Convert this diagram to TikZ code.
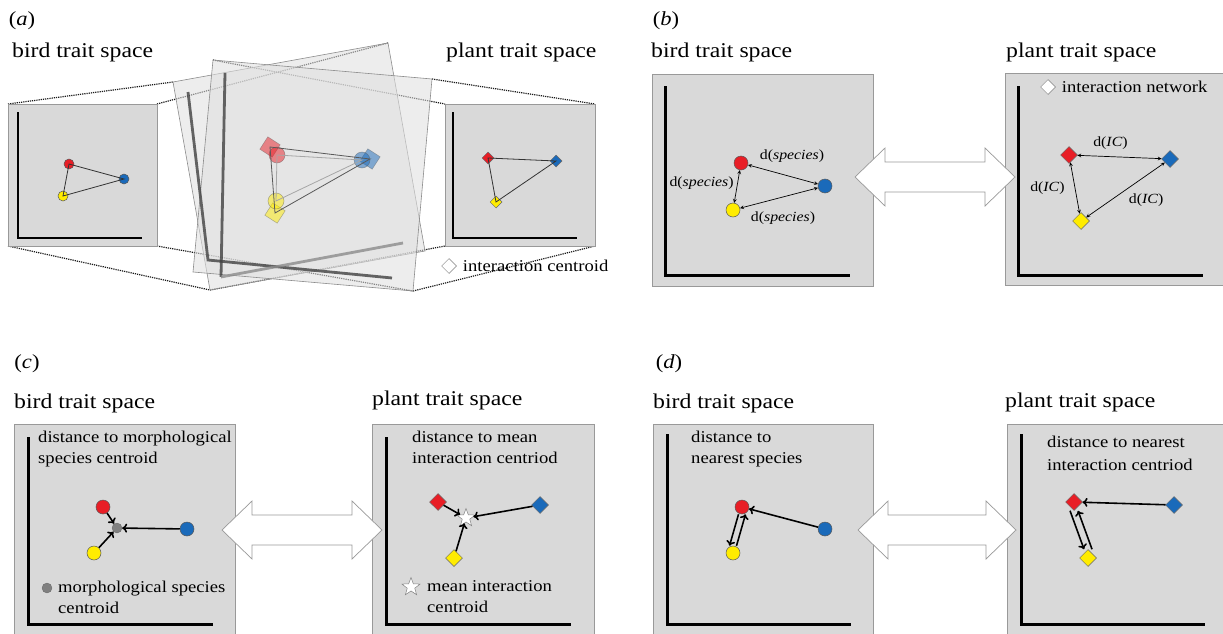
\documentclass[tikz,border=0pt]{standalone}
\usepackage{fontspec}
\setmainfont{Liberation Serif}[FakeStretch=1.13]
\usetikzlibrary{shapes.geometric,positioning,arrows.meta}
\definecolor{spred}{RGB}{232,30,38}
\definecolor{spblue}{RGB}{26,106,186}
\definecolor{spyellow}{RGB}{255,236,0}
\definecolor{boxgray}{RGB}{217,217,217}
\tikzset{
  trait/.style={draw=black!40, fill=boxgray, line width=.6pt},
  axes/.style={line width=3pt, line join=miter},
  sp/.style={circle, draw=black!65, line width=.5pt, inner sep=0, minimum size=14pt},
  ic/.style={diamond, aspect=1, draw=black!60, line width=.5pt, inner sep=0, minimum size=17pt},
  cen/.style={circle, fill=black!50, draw=black!60, line width=.3pt, inner sep=0, minimum size=10pt},
  mic/.style={star, star points=5, star point ratio=2.4, draw=black!50, fill=white, line width=.5pt, inner sep=0, minimum size=19pt},
  proj/.style={densely dotted, line width=1.2pt, black!90},
  plane/.style={draw=black!45, fill=black!12, fill opacity=.55, line width=.6pt},
  net/.style={line width=.8pt, black!80},
  link/.style={<->, line width=.7pt},
  pull/.style={-{To[length=5pt, width=9pt]}, line width=1.6pt},
  twoway/.style={draw=black!40, fill=white, line width=.7pt},
  tag/.style={font=\fontsize{20}{24}\selectfont, inner sep=0},
  title/.style={font=\fontsize{21}{25}\selectfont, inner sep=0, anchor=west},
  note/.style={font=\fontsize{16.5}{21}\selectfont, inner sep=0, align=left, anchor=north west},
  keytext/.style={font=\fontsize{16.5}{21}\selectfont, inner sep=0, anchor=west},
  lbl/.style={font=\fontsize{14}{16}\selectfont, inner sep=1pt}
}
\begin{document}
\begin{tikzpicture}[x=1pt, y=-1pt, >=stealth]
\useasboundingbox (0,0) rectangle (1223,634);
\fill[white] (0,0) rectangle (1223,634);

% (a)
\node[tag] (ta) at (22,21) {(\textit{a})};
\node[title] (abird) at (12,52) {bird trait space};
\node[title] (aplant) at (446,52) {plant trait space};
\draw[proj] (8,104) -- (173,82);
\draw[proj] (157,104) -- (388,43);
\draw[proj] (8,246) -- (210,290);
\draw[proj] (157,246) -- (413,291);
\draw[proj] (213,60) -- (445,104);
\draw[proj] (432,79) -- (595,104);
\draw[proj] (210,290) -- (445,246);
\draw[proj] (413,291) -- (595,246);
\draw[trait] (8,104) rectangle (157,246);
\draw[trait] (445,104) rectangle (595,246);
\draw[axes, line width=2.6pt] (18,112) |- (142,238);
\draw[axes, line width=2.6pt] (453,112) |- (577,238);
\draw[plane] (173,82) -- (388,43) -- (425,251) -- (210,290) -- cycle;
\draw[plane] (213,60) -- (432,79) -- (413,291) -- (193,272) -- cycle;
\draw[axes, line width=2.8pt, black!75, opacity=.8] (188,92) -- (208,260) -- (392,278);
\draw[axes, line width=2.8pt, black!75, opacity=.8] (225,73) -- (221,277);
\draw[axes, line width=2.8pt, black!45, opacity=.8] (221,277) -- (403,243);

\node[sp, fill=spred, minimum size=10pt] (ar) at (69,164) {};
\node[sp, fill=spblue, minimum size=10pt] (ab) at (124,179) {};
\node[sp, fill=spyellow, minimum size=10pt] (ay) at (63,196) {};
\draw[net] (ar.center) -- (ab.center) -- (ay.center) -- cycle;
\node[ic, fill=spred, minimum size=12pt] (pr) at (488,158) {};
\node[ic, fill=spblue, minimum size=12pt] (pb) at (556,161) {};
\node[ic, fill=spyellow, minimum size=12pt] (py) at (496,202) {};
\draw[net] (pr.center) -- (pb.center) -- (py.center) -- cycle;

\node[ic, fill=spred, opacity=.5, minimum size=21pt, rotate=12] (nr) at (270,147) {};
\node[ic, fill=spblue, opacity=.5, minimum size=21pt, rotate=12] (nb) at (370,159) {};
\node[ic, fill=spyellow, opacity=.5, minimum size=21pt, rotate=12] (ny) at (275,213) {};
\node[sp, fill=spred, opacity=.5, minimum size=16pt] (mr) at (277,155) {};
\node[sp, fill=spblue, opacity=.5, minimum size=16pt] (mb) at (362,160) {};
\node[sp, fill=spyellow, opacity=.5, minimum size=16pt] (my) at (276,201) {};
\draw[net, black!35] (mr.center) -- (mb.center) -- (my.center) -- cycle;
\draw[net, black!65] (nr.center) -- (nb.center) -- (ny.center) -- cycle;

\node[ic, fill=white, draw=black!50, minimum size=15pt] (akey) at (449,266) {};
\node[keytext, right=6pt of akey] (akeyt) {interaction centroid};

% (b)
\node[tag] (tb) at (666,21) {(\textit{b})};
\node[title] (bbird) at (651,52) {bird trait space};
\node[title] (bplant) at (1006,52) {plant trait space};
\draw[trait] (652,74) rectangle (873,286);
\draw[trait] (1005,73) rectangle (1230,285);
\draw[axes] (665,86) |- (850,275);
\draw[axes] (1018,86) |- (1203,275);
\node[sp, fill=spred] (br) at (741,163) {};
\node[sp, fill=spblue] (bb) at (825,186) {};
\node[sp, fill=spyellow] (by) at (733,210) {};
\draw[link] (br) -- node[lbl, above=11pt, xshift=9pt] {d(\textit{species})} (bb);
\draw[link] (br) -- node[lbl, left=2pt, yshift=3pt] {d(\textit{species})} (by);
\draw[link] (by) -- node[lbl, below=12pt, xshift=4pt] {d(\textit{species})} (bb);
\node[ic, fill=spred] (qr) at (1069,155) {};
\node[ic, fill=spblue] (qb) at (1170,159) {};
\node[ic, fill=spyellow] (qy) at (1081,221) {};
\draw[link] (qr) -- node[lbl, above=6pt, xshift=-9pt] {d(\textit{IC})} (qb);
\draw[link] (qr) -- node[lbl, left=9pt] {d(\textit{IC})} (qy);
\draw[link] (qy) -- node[lbl, right=2pt, yshift=-10pt] {d(\textit{IC})} (qb);
\node[ic, fill=white, draw=black!50, minimum size=15pt] (bkey) at (1048,87) {};
\node[keytext, right=6pt of bkey] (bkeyt) {interaction network};

% (c)
\node[tag] (tc) at (27,364) {(\textit{c})};
\node[title] (cbird) at (14,403) {bird trait space};
\node[title] (cplant) at (372,400) {plant trait space};
\draw[trait] (14,424) rectangle (235,640);
\draw[trait] (372,424) rectangle (594,640);
\draw[axes] (28,437) |- (213,624);
\draw[axes] (386,437) |- (571,624);
\node[note] (cnb) at (38,431) {distance to morphological\\species centroid};
\node[sp, fill=spred] (cr) at (103,507) {};
\node[sp, fill=spblue] (cb) at (187,529) {};
\node[sp, fill=spyellow] (cy) at (94,553) {};
\node[cen] (cg) at (117,528) {};
\draw[pull] (cr) -- (cg);
\draw[pull] (cb) -- (cg);
\draw[pull] (cy) -- (cg);
\node[cen] (ckey) at (47,588) {};
\node[note] (ckeyt) at (58,581) {morphological species\\centroid};
\node[note] (cnp) at (412,431) {distance to mean\\interaction centriod};
\node[ic, fill=spred] (cpr) at (438,502) {};
\node[ic, fill=spblue] (cpb) at (540,505) {};
\node[ic, fill=spyellow] (cpy) at (454,558) {};
\node[mic] (cst) at (466,518) {};
\draw[pull] (cpr) -- (cst);
\draw[pull] (cpb) -- (cst);
\draw[pull] (cpy) -- (cst);
\node[mic] (cskey) at (411,587) {};
\node[note] (cskeyt) at (427,580) {mean interaction\\centroid};

% (d)
\node[tag] (td) at (669,364) {(\textit{d})};
\node[title] (dbird) at (653,403) {bird trait space};
\node[title] (dplant) at (1005,402) {plant trait space};
\draw[trait] (653,424) rectangle (873,640);
\draw[trait] (1007,424) rectangle (1230,640);
\draw[axes] (667,434) |- (851,624);
\draw[axes] (1021,434) |- (1205,624);
\node[note] (dnb) at (691,431) {distance to\\nearest species};
\node[note, font=\fontsize{16.5}{22.5}\selectfont] (dnp) at (1047,436) {distance to nearest\\interaction centriod};
\node[sp, fill=spred] (dr) at (742,507) {};
\node[sp, fill=spblue] (db) at (825,529) {};
\node[sp, fill=spyellow] (dy) at (733,553) {};
\draw[pull] (db) -- (dr);
\draw[pull] ([xshift=-3.5pt]dr.south) -- ([xshift=-3.5pt]dy.north);
\draw[pull] ([xshift=3.5pt]dy.north) -- ([xshift=3.5pt]dr.south);
\node[ic, fill=spred] (dpr) at (1074,502) {};
\node[ic, fill=spblue] (dpb) at (1174,505) {};
\node[ic, fill=spyellow] (dpy) at (1088,558) {};
\draw[pull] (dpb) -- (dpr);
\draw[pull] ([xshift=-4pt]dpr.south) -- ([xshift=-4pt]dpy.north);
\draw[pull] ([xshift=4pt]dpy.north) -- ([xshift=4pt]dpr.south);

\foreach \xa/\xb/\yc in {855/1015/177, 222/382/530, 858/1016/530}
  \draw[twoway] (\xa,\yc) -- (\xa+30,\yc-29) -- (\xa+30,\yc-15) -- (\xb-30,\yc-15)
    -- (\xb-30,\yc-29) -- (\xb,\yc) -- (\xb-30,\yc+29) -- (\xb-30,\yc+15)
    -- (\xa+30,\yc+15) -- (\xa+30,\yc+29) -- cycle;
\end{tikzpicture}
\end{document}
